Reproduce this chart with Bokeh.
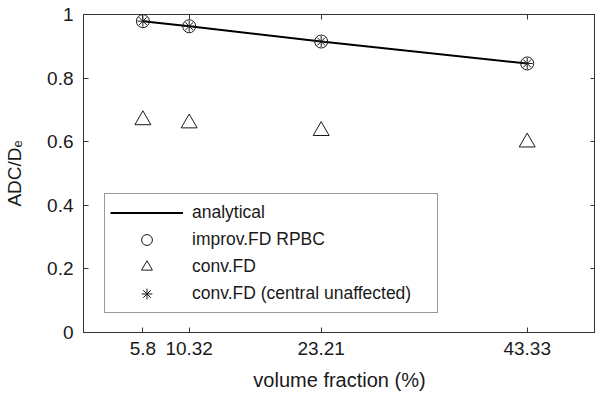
from bokeh.plotting import figure
from bokeh.models import (FixedTicker, LinearAxis, Legend, LegendItem, Range1d,
                          CustomJSTickFormatter)
from bokeh.embed import file_html
from bokeh.resources import INLINE

# data
volume_fraction = [5.8, 10.32, 23.21, 43.33]
analytical = [0.979, 0.963, 0.915, 0.846]
improv_fd_rpbc = [0.979, 0.963, 0.915, 0.846]
conv_fd = [0.668, 0.658, 0.634, 0.598]
conv_fd_central = [0.979, 0.963, 0.915, 0.846]
x_tick_labels = ["5.8", "10.32", "23.21", "43.33"]
y_ticks = [0, 0.2, 0.4, 0.6, 0.8, 1.0]
y_tick_labels = ["0", "0.2", "0.4", "0.6", "0.8", "1"]

FONT = "Liberation Sans"
INK = "#1a1a1a"

p = figure(frame_width=512, frame_height=318, output_backend="svg", toolbar_location=None,
           x_range=Range1d(0, 50), y_range=Range1d(0, 1),
           min_border_left=83, min_border_top=14, min_border_right=0, min_border_bottom=0)
p.grid.visible = False
p.outline_line_color = "#333333"
p.outline_line_width = 1
p.background_fill_color = "white"

def style_axis(ax):
    ax.major_tick_in = 5
    ax.major_tick_out = 0
    ax.minor_tick_line_color = None
    ax.axis_line_color = "#333333"
    ax.major_tick_line_color = "#333333"
    ax.major_tick_line_width = 1
    ax.major_label_text_font = FONT
    ax.major_label_text_font_size = "19px"
    ax.major_label_text_color = INK
    ax.axis_label_text_font = FONT
    ax.axis_label_text_font_size = "20px"
    ax.axis_label_text_font_style = "normal"
    ax.axis_label_text_color = INK

xa = p.xaxis[0]
xa.ticker = FixedTicker(ticks=volume_fraction)
xa.major_label_overrides = {v: l for v, l in zip(volume_fraction, x_tick_labels)}
xa.axis_label = "volume fraction (%)"
style_axis(xa)
xa.major_label_standoff = 9
xa.axis_label_standoff = 11

ya = p.yaxis[0]
ya.ticker = FixedTicker(ticks=y_ticks)
ya.major_label_overrides = {v: l for v, l in zip(y_ticks, y_tick_labels)}
ya.axis_label = "ADC/D\u2091"
style_axis(ya)
ya.axis_label_text_font_size = "19px"
ya.major_label_standoff = 10
ya.axis_label_standoff = 19

blank = CustomJSTickFormatter(code="return ''")
top = LinearAxis(ticker=FixedTicker(ticks=volume_fraction), formatter=blank)
style_axis(top)
top.major_label_standoff = 0
p.add_layout(top, "above")

right = LinearAxis(ticker=FixedTicker(ticks=y_ticks), formatter=blank)
style_axis(right)
right.major_label_standoff = 0
p.add_layout(right, "right")

# glyphs
r_line = p.line(volume_fraction, analytical, line_color="black", line_width=2)
r_circ = p.scatter(volume_fraction, improv_fd_rpbc, marker="circle", size=13,
                   fill_color=None, line_color=INK, line_width=1)
r_tri = p.scatter(volume_fraction, conv_fd, marker="triangle", size=16,
                  fill_color=None, line_color=INK, line_width=1)
r_star = p.scatter(volume_fraction, conv_fd_central, marker="asterisk", size=11,
                   line_color=INK, line_width=1)

legend = Legend(items=[
    LegendItem(label="analytical", renderers=[r_line]),
    LegendItem(label="improv.FD RPBC", renderers=[r_circ]),
    LegendItem(label="conv.FD", renderers=[r_tri]),
    LegendItem(label="conv.FD (central unaffected)", renderers=[r_star]),
], location=(21, 19))
legend.label_text_font = FONT
legend.label_text_font_size = "17.5px"
legend.label_text_color = INK
legend.border_line_color = "#333333"
legend.border_line_width = 1
legend.glyph_width = 73
legend.glyph_height = 27
legend.label_height = 27
legend.spacing = 0
legend.padding = 5
legend.margin = 0
legend.label_standoff = 9
legend.label_width = 240
p.add_layout(legend, "center")

open("out.html", "w").write(file_html(p, INLINE))
